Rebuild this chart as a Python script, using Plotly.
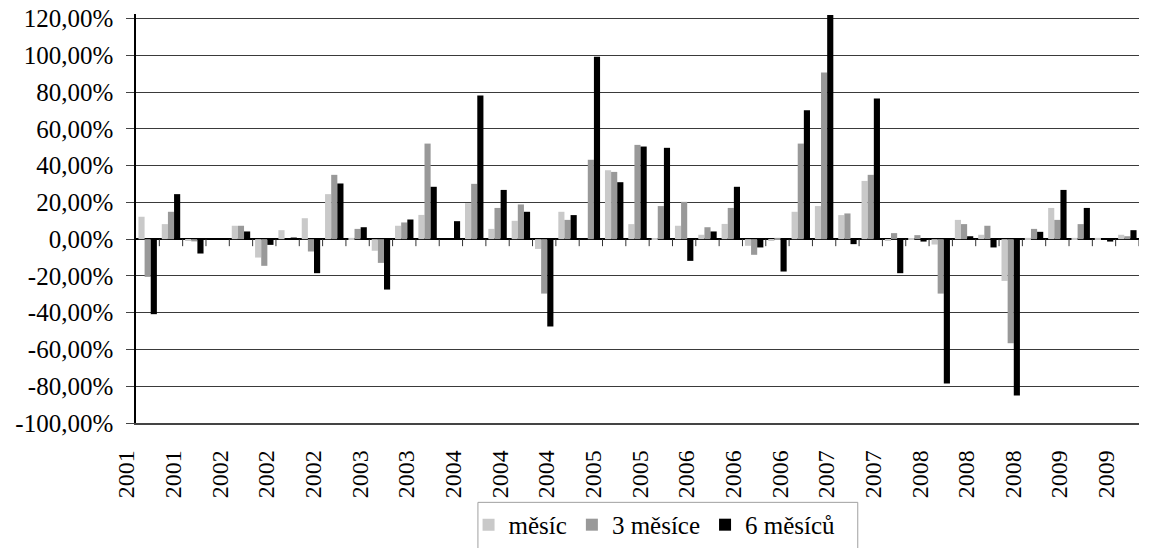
import plotly.graph_objects as go

# category labels (one per period, only every second one is shown on the axis)
periods = ["2001", "2001", "2001", "2001", "2002", "2002", "2002", "2002", "2002",
           "2003", "2003", "2003", "2003", "2004", "2004", "2004", "2004", "2004",
           "2004", "2005", "2005", "2005", "2005", "2006", "2006", "2006", "2006",
           "2006", "2006", "2007", "2007", "2007", "2007", "2008", "2008", "2008",
           "2008", "2008", "2008", "2009", "2009", "2009", "2009"]

mesic = [12.2, 8.2, -1.0, 0.0, 7.3, -10.0, 4.9, 11.4, 24.5, 0.7, -6.3, 7.3, 13.2, 0.0,
         19.6, 5.6, 10.0, -5.3, 14.9, 0.0, 37.5, 8.2, 0.5, 7.3, 2.4, 8.3, -3.6, -0.9,
         14.9, 18.0, 13.1, 31.7, -0.9, 0.5, -2.9, 10.5, 2.4, -22.7, 0.7, 17.0, 0.7,
         0.7, 2.4]
mesice3 = [-20.5, 14.9, -1.2, 0.0, 7.3, -14.5, 0.0, -6.7, 35.0, 5.6, -12.9, 9.1, 52.0,
           0.0, 30.1, 17.0, 18.9, -29.6, 10.5, 43.2, 36.6, 51.3, 18.0, 20.3, 6.5, 17.0,
           -8.5, 0.7, 52.0, 90.7, 14.0, 35.0, 3.3, 2.2, -29.6, 8.2, 7.3, -56.6, 5.6,
           10.5, 8.2, 0.0, 1.6]
mesicu6 = [-40.8, 24.5, -7.8, 0.0, 4.2, -3.1, 0.9, -18.5, 30.3, 6.5, -27.4, 10.7, 28.5,
           9.8, 78.2, 26.8, 14.9, -47.5, 13.1, 99.2, 31.0, 50.4, 49.7, -11.8, 4.2, 28.5,
           -4.5, -17.6, 70.2, 122.0, -2.7, 76.5, -18.5, -1.3, -78.5, 1.6, -4.5, -85.0,
           4.0, 26.8, 17.0, -1.3, 4.9]

series_names = ["měsíc", "3 měsíce", "6 měsíců"]
series_colors = ["#c9c9c9", "#999999", "#000000"]

y_tickvals = [-100, -80, -60, -40, -20, 0, 20, 40, 60, 80, 100, 120]
y_ticktext = ["-100,00%", "-80,00%", "-60,00%", "-40,00%", "-20,00%", "0,00%",
              "20,00%", "40,00%", "60,00%", "80,00%", "100,00%", "120,00%"]

x_idx = list(range(len(periods)))
FONT = "'Times New Roman', 'Liberation Serif', 'DejaVu Serif', serif"

fig = go.Figure()
for name, vals, col in zip(series_names, [mesic, mesice3, mesicu6], series_colors):
    fig.add_trace(go.Bar(x=x_idx, y=vals, name=name, marker_color=col,
                         marker_line_width=0))

# small category tick marks on the zero line
shapes = []
for i in range(len(periods)):
    shapes.append(dict(type="line", xref="x", yref="y", x0=i + 0.5, x1=i + 0.5,
                       ysizemode="pixel", yanchor=0, y0=0, y1=-7,
                       line=dict(color="#333333", width=1)))
# legend frame (extends below the page edge as in the original)
shapes.append(dict(type="rect", xref="paper", yref="paper", x0=0.3409, x1=0.7196,
                   y0=-0.194, y1=-0.40, line=dict(color="#a0a0a0", width=1),
                   fillcolor="rgba(0,0,0,0)"))

fig.update_layout(
    width=1150, height=548,
    margin=dict(l=136, r=11, t=14, b=125, autoexpand=False),
    paper_bgcolor="white", plot_bgcolor="white",
    barmode="group", bargap=0.21, bargroupgap=0.0,
    font=dict(family=FONT, color="black", size=25),
    shapes=shapes,
    showlegend=True,
    legend=dict(orientation="h", x=0.517, xanchor="center", y=-0.193, yanchor="top",
                font=dict(family=FONT, size=25, color="black"),
                bgcolor="rgba(0,0,0,0)", borderwidth=0, itemwidth=30,
                traceorder="normal"),
)
fig.update_xaxes(
    range=[-0.5, len(periods) - 0.5], automargin=False,
    tickmode="array", tickvals=x_idx[::2], ticktext=periods[::2],
    tickangle=-90, ticks="", showgrid=False, zeroline=False,
    tickfont=dict(family=FONT, size=24, color="black"),
    ticklabelshift=-21, ticklabelstandoff=16,
    showline=True, linecolor="#444444", linewidth=1.5,
)
fig.update_yaxes(
    range=[-100, 122.5], automargin=False,
    tickmode="array", tickvals=y_tickvals, ticktext=y_ticktext,
    ticks="outside", ticklen=8, tickcolor="#444444", tickwidth=1,
    ticklabelstandoff=8,
    showgrid=True, gridcolor="#3a3a3a", gridwidth=1,
    zeroline=True, zerolinecolor="#000000", zerolinewidth=1.5,
    showline=True, linecolor="#000000", linewidth=1.5,
    tickfont=dict(family=FONT, size=25, color="black"),
)

fig.write_html(
    "out.html",
    config={"displayModeBar": False},
    post_script="document.body.style.margin='0';document.body.style.overflow='hidden';",
)
